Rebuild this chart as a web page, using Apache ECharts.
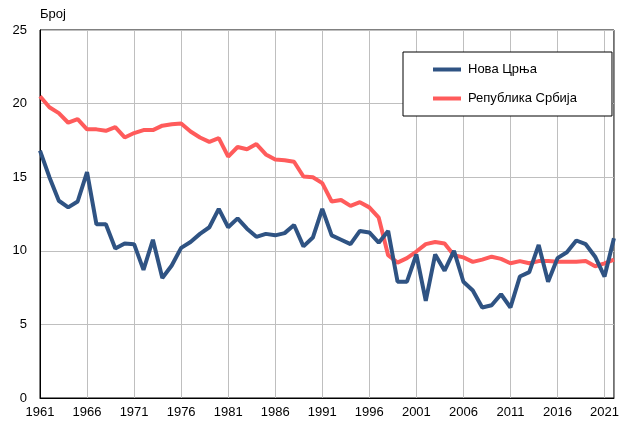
<!DOCTYPE html>
<html>
<head>
<meta charset="utf-8">
<script src="https://cdn.jsdelivr.net/npm/echarts@6/dist/echarts.min.js"></script>
<style>
  html, body { margin: 0; padding: 0; background: #fff; }
  #main { width: 622px; height: 421px; }
</style>
</head>
<body>
<div id="main"></div>
<script>
  // godine 1961-2022
  const years = [];
  for (let y = 1961; y <= 2022; y++) years.push(String(y));

  const novaCrnja = [
    16.8, 15.0, 13.4, 12.95, 13.35, 15.35, 11.8, 11.8, 10.15, 10.5,
    10.45, 8.7, 10.75, 8.15, 9.0, 10.2, 10.6, 11.15, 11.6, 12.85,
    11.6, 12.2, 11.5, 10.95, 11.15, 11.05, 11.2, 11.75, 10.3, 10.9,
    12.85, 11.05, 10.75, 10.45, 11.35, 11.25, 10.55, 11.35, 7.9, 7.9,
    9.75, 6.6, 9.75, 8.65, 10.0, 7.9, 7.3, 6.15, 6.3, 7.05,
    6.15, 8.25, 8.55, 10.4, 7.9, 9.5, 9.9, 10.7, 10.45, 9.6,
    8.25, 10.85
  ];

  const srbija = [
    20.5, 19.75, 19.35, 18.7, 18.95, 18.25, 18.25, 18.15, 18.4, 17.7,
    18.0, 18.2, 18.2, 18.5, 18.6, 18.65, 18.1, 17.7, 17.4, 17.65,
    16.4, 17.05, 16.9, 17.25, 16.55, 16.2, 16.15, 16.05, 15.05, 15.0,
    14.6, 13.35, 13.45, 13.05, 13.3, 12.95, 12.25, 9.7, 9.2, 9.5,
    9.95, 10.45, 10.6, 10.5, 9.7, 9.55, 9.25, 9.4, 9.6, 9.45,
    9.15, 9.3, 9.15, 9.3, 9.3, 9.25, 9.25, 9.25, 9.3, 8.95,
    9.15, 9.4
  ];

  const yTicks = { min: 0, max: 25, interval: 5 };

  const font = '"Liberation Sans", Arial, sans-serif';

  let myChart = echarts.init(document.getElementById('main'));

  let option = {
    backgroundColor: '#ffffff',
    animation: false,
    textStyle: { fontFamily: font, color: '#000' },
    grid: {
      left: 40,
      top: 30,
      right: 1,
      bottom: 23,
      show: true,
      borderColor: '#000',
      borderWidth: 1
    },
    legend: {
      orient: 'vertical',
      left: 403,
      top: 52,
      padding: [11, 35, 11, 28],
      itemGap: 16,
      itemWidth: 28,
      itemHeight: 14,
      borderColor: '#000',
      borderWidth: 1,
      backgroundColor: '#fff',
      itemStyle: { opacity: 0 },
      lineStyle: { width: 4 },
      textStyle: { fontFamily: font, fontSize: 13, color: '#000', padding: [0, 0, 0, 2] },
      data: ['Нова Црња', 'Република Србија']
    },
    xAxis: {
      type: 'category',
      data: years,
      boundaryGap: false,
      axisLine: { lineStyle: { color: '#000', width: 1 } },
      axisTick: { show: false },
      axisLabel: { interval: 4, fontSize: 13, color: '#000', margin: 8, fontFamily: font },
      splitLine: { show: true, interval: 4, lineStyle: { color: '#bfbfbf', width: 1 } }
    },
    yAxis: {
      type: 'value',
      min: yTicks.min,
      max: yTicks.max,
      interval: yTicks.interval,
      name: 'Број',
      nameLocation: 'end',
      nameGap: 9,
      nameTextStyle: { align: 'left', fontSize: 13, color: '#000', fontFamily: font },
      axisLine: { show: true, lineStyle: { color: '#000', width: 1 } },
      axisTick: { show: false },
      axisLabel: { fontSize: 13, color: '#000', margin: 13, fontFamily: font },
      splitLine: { lineStyle: { color: '#bfbfbf', width: 1 } }
    },
    series: [
      {
        name: 'Нова Црња',
        type: 'line',
        data: novaCrnja,
        symbol: 'none',
        lineStyle: { color: '#2f5383', width: 4 },
        itemStyle: { color: '#2f5383' },
        z: 3
      },
      {
        name: 'Република Србија',
        type: 'line',
        data: srbija,
        symbol: 'none',
        lineStyle: { color: '#ff5b5b', width: 4 },
        itemStyle: { color: '#ff5b5b' },
        z: 2
      }
    ]
  };

  option && myChart.setOption(option);
</script>
</body>
</html>
